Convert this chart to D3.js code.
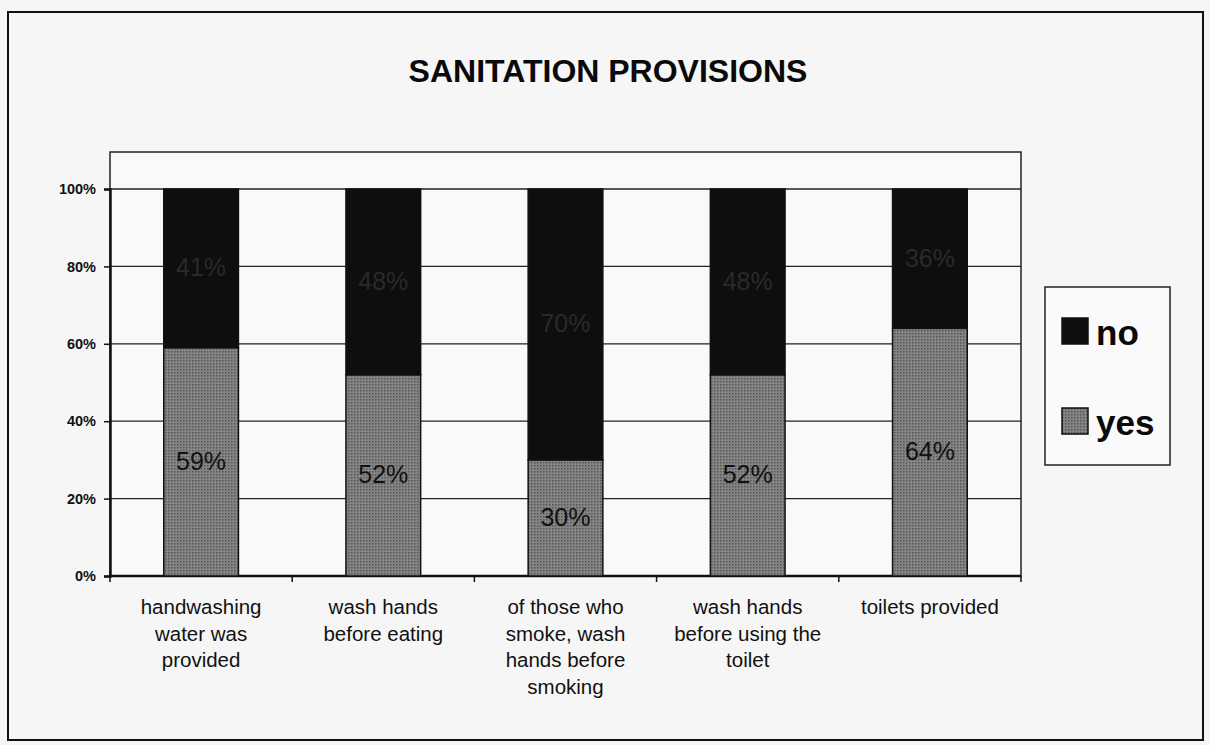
<!DOCTYPE html>
<html>
<head>
<meta charset="utf-8">
<script src="https://cdn.jsdelivr.net/npm/d3@7"></script>
<style>
  body { margin: 0; background: #f6f6f6; }
  svg { display: block; font-family: Arial, "Liberation Sans", sans-serif; }
</style>
</head>
<body>
<script>
// chart values
const categories = [
  "handwashing\nwater was\nprovided",
  "wash hands\nbefore eating",
  "of those who\nsmoke, wash\nhands before\nsmoking",
  "wash hands\nbefore using the\ntoilet",
  "toilets provided"
]
const yesValues = [59, 52, 30, 52, 64]
const noValues = [41, 48, 70, 48, 36]
const seriesNames = ["no", "yes"]
const yTicks = [0, 20, 40, 60, 80, 100]

const W = 1210, H = 745
const plotLeft = 110, plotRight = 1021, plotTop = 152, plotBottom = 576

const svg = d3.select("body").append("svg")
  .attr("width", W)
  .attr("height", H)

const defs = svg.append("defs")
// halftone-ish fill for the "yes" part
const pat = defs.append("pattern")
  .attr("id", "dots")
  .attr("width", 3).attr("height", 3)
  .attr("patternUnits", "userSpaceOnUse")
pat.append("rect").attr("width", 3).attr("height", 3).attr("fill", "#858585")
pat.append("rect").attr("width", 1.5).attr("height", 1.5).attr("fill", "#555")

// outer frame
svg.append("rect")
  .attr("x", 8).attr("y", 12)
  .attr("width", 1195).attr("height", 728)
  .attr("fill", "#f6f6f6")
  .attr("stroke", "#111").attr("stroke-width", 2)

svg.append("text")
  .attr("x", 608).attr("y", 82)
  .attr("text-anchor", "middle")
  .attr("font-size", 32)
  .attr("font-weight", "bold")
  .attr("fill", "#0a0a0a")
  .text("SANITATION PROVISIONS")

const x = d3.scaleBand()
  .domain(categories)
  .range([plotLeft, plotRight])
  .paddingInner(0.59)
  .paddingOuter(0.295)

const y = d3.scaleLinear()
  .domain([0, 100])
  .range([plotBottom, 189])

// plot area
svg.append("rect")
  .attr("x", plotLeft).attr("y", plotTop)
  .attr("width", plotRight - plotLeft).attr("height", plotBottom - plotTop)
  .attr("fill", "#f9f9f9")
  .attr("stroke", "#222").attr("stroke-width", 1.5)

svg.append("g")
  .selectAll("line")
  .data(yTicks.slice(1))
  .join("line")
  .attr("x1", plotLeft).attr("x2", plotRight)
  .attr("y1", d => y(d)).attr("y2", d => y(d))
  .attr("stroke", "#222").attr("stroke-width", 1.3)

const yAxis = svg.append("g")
  .attr("transform", `translate(${plotLeft},0)`)
  .call(d3.axisLeft(y).tickValues(yTicks).tickFormat(d => d + "%").tickSize(6).tickPadding(8))
yAxis.select(".domain").attr("stroke", "#111").attr("stroke-width", 2.5)
yAxis.selectAll(".tick line").attr("stroke", "#111").attr("stroke-width", 1.5)
yAxis.selectAll("text")
  .attr("font-size", 14.5).attr("font-weight", "bold").attr("fill", "#111")
  .attr("font-family", "Arial, 'Liberation Sans', sans-serif")

// x axis line and ticks at category boundaries
svg.append("line")
  .attr("x1", plotLeft).attr("x2", plotRight)
  .attr("y1", plotBottom).attr("y2", plotBottom)
  .attr("stroke", "#111").attr("stroke-width", 2.5)
const step = x.step()
svg.append("g")
  .selectAll("line")
  .data(d3.range(categories.length + 1))
  .join("line")
  .attr("x1", i => plotLeft + i * step).attr("x2", i => plotLeft + i * step)
  .attr("y1", plotBottom).attr("y2", plotBottom + 6)
  .attr("stroke", "#111").attr("stroke-width", 1.5)

// stacked bars
const rows = categories.map((c, i) => ({ cat: c, yes: yesValues[i], no: noValues[i] }))
const stack = d3.stack().keys(["yes", "no"])(rows)
const fills = { yes: "url(#dots)", no: "#0e0e0e" }
const labelColor = { yes: "#111", no: "#2a2a2a" }

stack.forEach(layer => {
  const g = svg.append("g")
  g.selectAll("rect")
    .data(layer)
    .join("rect")
    .attr("x", d => x(d.data.cat))
    .attr("width", x.bandwidth())
    .attr("y", d => y(d[1]))
    .attr("height", d => y(d[0]) - y(d[1]))
    .attr("fill", fills[layer.key])
    .attr("stroke", "#111").attr("stroke-width", 1.5)
  g.selectAll("text")
    .data(layer)
    .join("text")
    .attr("x", d => x(d.data.cat) + x.bandwidth() / 2)
    .attr("y", d => y((d[0] + d[1]) / 2) + 8)
    .attr("text-anchor", "middle")
    .attr("font-size", 25)
    .attr("fill", labelColor[layer.key])
    .text(d => d.data[layer.key] + "%")
})

// category labels
const xl = svg.append("g")
  .selectAll("text")
  .data(categories)
  .join("text")
  .attr("x", d => x(d) + x.bandwidth() / 2)
  .attr("y", 614)
  .attr("text-anchor", "middle")
  .attr("font-size", 20.5)
  .attr("fill", "#111")
xl.selectAll("tspan")
  .data(d => d.split("\n"))
  .join("tspan")
  .attr("x", function () { return d3.select(this.parentNode).attr("x") })
  .attr("dy", (d, i) => i === 0 ? 0 : 26.5)
  .text(d => d)

// legend
const lg = svg.append("g")
lg.append("rect")
  .attr("x", 1045).attr("y", 287)
  .attr("width", 125).attr("height", 178)
  .attr("fill", "#fafafa")
  .attr("stroke", "#222").attr("stroke-width", 1.5)
const items = lg.selectAll("g")
  .data(seriesNames)
  .join("g")
  .attr("transform", (d, i) => `translate(1062,${318 + i * 90})`)
items.append("rect")
  .attr("width", 26).attr("height", 26)
  .attr("fill", d => d === "no" ? "#0e0e0e" : "url(#dots)")
  .attr("stroke", "#111").attr("stroke-width", 1.5)
items.append("text")
  .attr("x", 34).attr("y", 27)
  .attr("font-size", 35).attr("font-weight", "bold")
  .attr("fill", "#0a0a0a")
  .text(d => d)
</script>
</body>
</html>
